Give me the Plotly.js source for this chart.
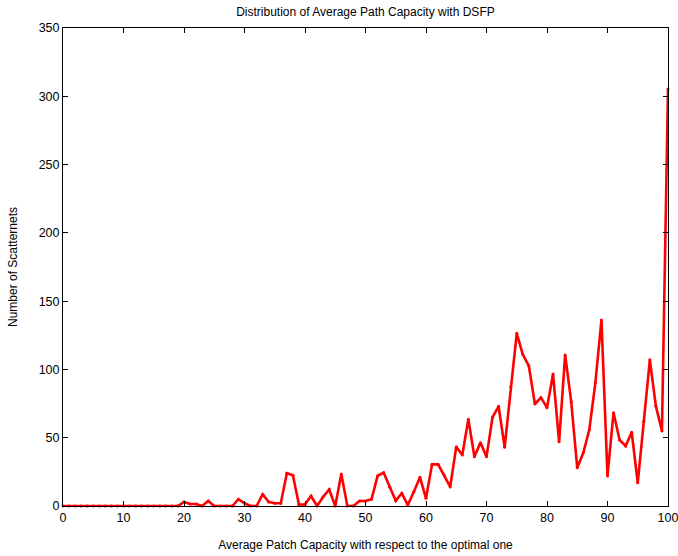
<!DOCTYPE html>
<html>
<head>
<meta charset="utf-8">
<script src="https://cdn.plot.ly/plotly-3.0.1.min.js"></script>
<style>html,body{margin:0;padding:0;background:#fff;}#chart{width:678px;height:556px;}</style>
</head>
<body>
<div id="chart"></div>
<script>
// Average path capacity (% of optimal), 0..100
var capacity = [];
for (var i = 0; i <= 100; i++) capacity.push(i);
// Number of scatternets at each capacity value
var scatternets = [
  0,0,0,0,0,0,0,0,0,0,        // 0-9
  0,0,0,0,0,0,0,0,0,0,        // 10-19
  3,1.5,1.5,0,3.7,0,0,0,0,5,  // 20-29
  2,0,0,8.5,3,2,2,24,22.5,1,  // 30-39
  1.2,7.3,0,6.8,12,0,23.4,0,0,3.7, // 40-49
  3.7,5,22,24.4,13.7,3.9,9.3,0.7,10.5,21, // 50-59
  5.6,30.5,30.5,22.7,14,43.4,37.3,63.5,36,46.4, // 60-69
  36,65,73,43,87.4,126.4,111,102.5,74.7,79.3, // 70-79
  72,96.6,47,110.6,76.4,28,39,56,90.3,136.2, // 80-89
  22,68.3,48.3,44,54,17,62,107,73,55, // 90-99
  305.3 // 100
];
var xTicks = [0,10,20,30,40,50,60,70,80,90,100];
var yTicks = [0,50,100,150,200,250,300,350];

var font = "Liberation Sans, Arial, Helvetica, sans-serif";
var trace = {
  x: capacity, y: scatternets, type: "scatter", mode: "lines+markers",
  line: {color: "#ff0000", width: 2.6},
  marker: {color: "#ff0000", size: 3},
  hoverinfo: "skip", cliponaxis: false
};
var axisCommon = {
  showgrid: false, zeroline: false, showline: true, linecolor: "#000", linewidth: 1,
  mirror: "ticks", ticks: "inside", ticklen: 5, tickcolor: "#000", tickwidth: 1,
  ticklabeloverflow: "allow",
  tickfont: {family: font, size: 12.5, color: "#000"}
};
var layout = {
  width: 678, height: 556,
  margin: {l: 63, r: 10, t: 28, b: 50},
  paper_bgcolor: "#fff", plot_bgcolor: "#fff",
  showlegend: false,
  title: {text: "Distribution of Average Path Capacity with DSFP", font: {family: font, size: 12, color: "#000"}, x: 0.539, xanchor: "center", y: 0.979, yanchor: "middle"},
  xaxis: Object.assign({}, axisCommon, {
    range: [0, 100], tickvals: xTicks, ticktext: xTicks.map(String),
    title: {text: "Average Patch Capacity with respect to the optimal one", font: {family: font, size: 12, color: "#000"}, standoff: 16}
  }),
  yaxis: Object.assign({}, axisCommon, {
    range: [0, 350], tickvals: yTicks, ticktext: yTicks.map(String),
    title: {text: "Number of Scatternets", font: {family: font, size: 12, color: "#000"}, standoff: 18}
  })
};
Plotly.newPlot("chart", [trace], layout, {displayModeBar: false, staticPlot: true});
</script>
</body>
</html>
